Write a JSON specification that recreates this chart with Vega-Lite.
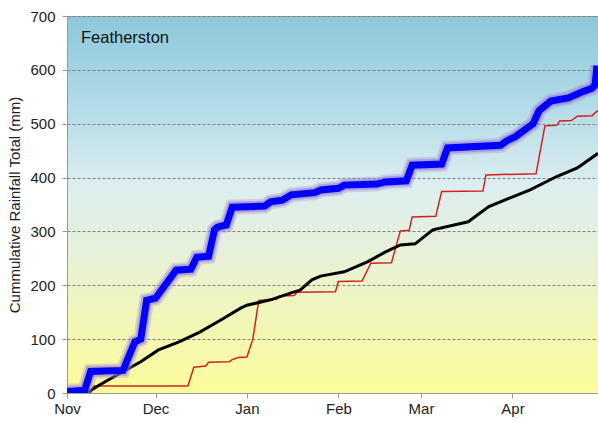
{
  "$schema": "https://vega.github.io/schema/vega-lite/v6.json",
  "width": 531,
  "height": 377,
  "autosize": "none",
  "padding": {"left": 67, "top": 16, "right": 0, "bottom": 30},
  "background": "white",
  "config": {
    "font": "Liberation Sans",
    "view": {
      "fill": {"gradient": "linear", "x1": 0, "y1": 0, "x2": 0, "y2": 1,
        "stops": [
          {"offset": 0, "color": "#8cc8da"},
          {"offset": 0.25, "color": "#b4dce8"},
          {"offset": 0.45, "color": "#ddeef0"},
          {"offset": 0.62, "color": "#e6f1da"},
          {"offset": 0.8, "color": "#f1f6b8"},
          {"offset": 1, "color": "#fcfc9a"}
        ]},
      "stroke": "#999999",
      "strokeWidth": 1
    }
  },
  "title": {
    "text": "Featherston",
    "anchor": "start",
    "frame": "group",
    "orient": "top",
    "offset": -37,
    "dx": 14,
    "fontSize": 16.5,
    "fontWeight": "normal",
    "font": "Liberation Sans",
    "color": "#111111"
  },
  "data": {
    "values": [
      {"s": "B", "d": "2012-11-01", "v": 3},
      {"s": "B", "d": "2012-11-07", "v": 5},
      {"s": "B", "d": "2012-11-09", "v": 40},
      {"s": "B", "d": "2012-11-20", "v": 42},
      {"s": "B", "d": "2012-11-24", "v": 95},
      {"s": "B", "d": "2012-11-26", "v": 100},
      {"s": "B", "d": "2012-11-28", "v": 172},
      {"s": "B", "d": "2012-12-01", "v": 176},
      {"s": "B", "d": "2012-12-08", "v": 228},
      {"s": "B", "d": "2012-12-13", "v": 230},
      {"s": "B", "d": "2012-12-15", "v": 252},
      {"s": "B", "d": "2012-12-19", "v": 254},
      {"s": "B", "d": "2012-12-21", "v": 303},
      {"s": "B", "d": "2012-12-22", "v": 308},
      {"s": "B", "d": "2012-12-25", "v": 312},
      {"s": "B", "d": "2012-12-27", "v": 345},
      {"s": "B", "d": "2013-01-07", "v": 347},
      {"s": "B", "d": "2013-01-09", "v": 355},
      {"s": "B", "d": "2013-01-13", "v": 358},
      {"s": "B", "d": "2013-01-16", "v": 368},
      {"s": "B", "d": "2013-01-24", "v": 372},
      {"s": "B", "d": "2013-01-26", "v": 377},
      {"s": "B", "d": "2013-02-01", "v": 380},
      {"s": "B", "d": "2013-02-03", "v": 386},
      {"s": "B", "d": "2013-02-14", "v": 388},
      {"s": "B", "d": "2013-02-17", "v": 392},
      {"s": "B", "d": "2013-02-24", "v": 394},
      {"s": "B", "d": "2013-02-26", "v": 423},
      {"s": "B", "d": "2013-03-08", "v": 425},
      {"s": "B", "d": "2013-03-10", "v": 455},
      {"s": "B", "d": "2013-03-28", "v": 460},
      {"s": "B", "d": "2013-03-30", "v": 468},
      {"s": "B", "d": "2013-04-02", "v": 476},
      {"s": "B", "d": "2013-04-06", "v": 492},
      {"s": "B", "d": "2013-04-08", "v": 500},
      {"s": "B", "d": "2013-04-10", "v": 524},
      {"s": "B", "d": "2013-04-14", "v": 542},
      {"s": "B", "d": "2013-04-20", "v": 548},
      {"s": "B", "d": "2013-04-25", "v": 560},
      {"s": "B", "d": "2013-04-28", "v": 566},
      {"s": "B", "d": "2013-04-29", "v": 572},
      {"s": "B", "d": "2013-04-29T16:00Z", "v": 608},
      {"s": "K", "d": "2012-11-01", "v": 0},
      {"s": "K", "d": "2012-11-08", "v": 1},
      {"s": "K", "d": "2012-11-12", "v": 15},
      {"s": "K", "d": "2012-11-21", "v": 43},
      {"s": "K", "d": "2012-11-26", "v": 58},
      {"s": "K", "d": "2012-12-02", "v": 80},
      {"s": "K", "d": "2012-12-09", "v": 95},
      {"s": "K", "d": "2012-12-16", "v": 113},
      {"s": "K", "d": "2012-12-23", "v": 135},
      {"s": "K", "d": "2012-12-30", "v": 158},
      {"s": "K", "d": "2013-01-01", "v": 163},
      {"s": "K", "d": "2013-01-09", "v": 173},
      {"s": "K", "d": "2013-01-16", "v": 186},
      {"s": "K", "d": "2013-01-19", "v": 191},
      {"s": "K", "d": "2013-01-23", "v": 210},
      {"s": "K", "d": "2013-01-26", "v": 217},
      {"s": "K", "d": "2013-02-03", "v": 225},
      {"s": "K", "d": "2013-02-11", "v": 244},
      {"s": "K", "d": "2013-02-17", "v": 262},
      {"s": "K", "d": "2013-02-22", "v": 275},
      {"s": "K", "d": "2013-02-27", "v": 277},
      {"s": "K", "d": "2013-03-05", "v": 303},
      {"s": "K", "d": "2013-03-17", "v": 318},
      {"s": "K", "d": "2013-03-24", "v": 346},
      {"s": "K", "d": "2013-03-31", "v": 362},
      {"s": "K", "d": "2013-04-07", "v": 377},
      {"s": "K", "d": "2013-04-16", "v": 402},
      {"s": "K", "d": "2013-04-23", "v": 418},
      {"s": "K", "d": "2013-04-30", "v": 445},
      {"s": "R", "d": "2012-11-01", "v": 0},
      {"s": "R", "d": "2012-11-09", "v": 0},
      {"s": "R", "d": "2012-11-10", "v": 13},
      {"s": "R", "d": "2012-12-12", "v": 13},
      {"s": "R", "d": "2012-12-14", "v": 48},
      {"s": "R", "d": "2012-12-18", "v": 50},
      {"s": "R", "d": "2012-12-19", "v": 57},
      {"s": "R", "d": "2012-12-26", "v": 58},
      {"s": "R", "d": "2012-12-27", "v": 62},
      {"s": "R", "d": "2012-12-29", "v": 66},
      {"s": "R", "d": "2013-01-01", "v": 67},
      {"s": "R", "d": "2013-01-03", "v": 100},
      {"s": "R", "d": "2013-01-05", "v": 172},
      {"s": "R", "d": "2013-01-11", "v": 174},
      {"s": "R", "d": "2013-01-12", "v": 180},
      {"s": "R", "d": "2013-01-17", "v": 181},
      {"s": "R", "d": "2013-01-18", "v": 187},
      {"s": "R", "d": "2013-01-31", "v": 188},
      {"s": "R", "d": "2013-02-01", "v": 207},
      {"s": "R", "d": "2013-02-09", "v": 208},
      {"s": "R", "d": "2013-02-12", "v": 241},
      {"s": "R", "d": "2013-02-19", "v": 242},
      {"s": "R", "d": "2013-02-22", "v": 301},
      {"s": "R", "d": "2013-02-25", "v": 302},
      {"s": "R", "d": "2013-02-26", "v": 327},
      {"s": "R", "d": "2013-03-06", "v": 328},
      {"s": "R", "d": "2013-03-08", "v": 374},
      {"s": "R", "d": "2013-03-22", "v": 375},
      {"s": "R", "d": "2013-03-23", "v": 405},
      {"s": "R", "d": "2013-04-09", "v": 407},
      {"s": "R", "d": "2013-04-12", "v": 496},
      {"s": "R", "d": "2013-04-16", "v": 497},
      {"s": "R", "d": "2013-04-17", "v": 505},
      {"s": "R", "d": "2013-04-21", "v": 506},
      {"s": "R", "d": "2013-04-23", "v": 514},
      {"s": "R", "d": "2013-04-28", "v": 515},
      {"s": "R", "d": "2013-04-30", "v": 525}
    ]
  },
  "encoding": {
    "x": {
      "field": "d",
      "type": "temporal",
      "scale": {
        "type": "utc",
        "domain": [
          {"year": 2012, "month": 11, "date": 1, "utc": true},
          {"year": 2013, "month": 4, "date": 30, "utc": true}
        ]
      },
      "axis": {
        "title": null,
        "grid": false,
        "values": [
          {"year": 2012, "month": 11, "date": 1, "utc": true},
          {"year": 2012, "month": 12, "date": 1, "utc": true},
          {"year": 2013, "month": 1, "date": 1, "utc": true},
          {"year": 2013, "month": 2, "date": 1, "utc": true},
          {"year": 2013, "month": 3, "date": 1, "utc": true},
          {"year": 2013, "month": 4, "date": 1, "utc": true}
        ],
        "format": "%b",
        "labelFont": "Liberation Sans",
        "labelFontSize": 15,
        "labelColor": "#222222",
        "labelPadding": 3,
        "labelFlush": false,
        "domainColor": "#999999",
        "tickColor": "#999999",
        "tickSize": 5
      }
    },
    "y": {
      "field": "v",
      "type": "quantitative",
      "scale": {"domain": [0, 700], "nice": false, "zero": true},
      "axis": {
        "title": "Cummulative Rainfall Total (mm)",
        "titleFont": "Liberation Sans",
        "titleFontSize": 15,
        "titleFontWeight": "normal",
        "titleColor": "#222222",
        "titlePadding": 7,
        "values": [0, 100, 200, 300, 400, 500, 600, 700],
        "labelFont": "Liberation Sans",
        "labelFontSize": 15,
        "labelColor": "#222222",
        "labelPadding": 7,
        "domainColor": "#999999",
        "tickColor": "#999999",
        "tickSize": 5,
        "grid": true,
        "gridColor": "#808080",
        "gridDash": [3, 2],
        "gridWidth": 1
      }
    }
  },
  "layer": [
    {"transform": [{"filter": "datum.s == 'R'"}], "mark": {"type": "line", "color": "#d42020", "strokeWidth": 1.5, "clip": true}},
    {"transform": [{"filter": "datum.s == 'K'"}], "mark": {"type": "line", "color": "#000000", "strokeWidth": 3, "clip": true}},
    {"transform": [{"filter": "datum.s == 'B'"}], "mark": {"type": "line", "color": "#a890dc", "opacity": 0.35, "strokeWidth": 15, "clip": true}},
    {"transform": [{"filter": "datum.s == 'B'"}], "mark": {"type": "line", "color": "#8a6ccc", "opacity": 0.45, "strokeWidth": 11, "clip": true}},
    {"transform": [{"filter": "datum.s == 'B'"}], "mark": {"type": "line", "color": "#0000ff", "strokeWidth": 7, "clip": true}}
  ]
}
